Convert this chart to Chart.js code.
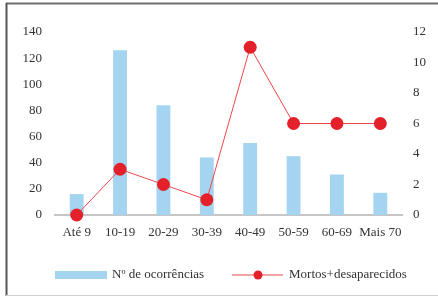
<!DOCTYPE html>
<html>
<head>
<meta charset="utf-8">
<script src="https://cdn.jsdelivr.net/npm/chart.js@4/dist/chart.umd.min.js"></script>
<style>
  html, body { margin: 0; padding: 0; background: #fff; }
  #wrap { position: relative; width: 438px; height: 297px; }
</style>
</head>
<body>
<div id="wrap"><canvas id="chart" width="438" height="297"></canvas></div>
<script>
const categories = ["Até 9", "10-19", "20-29", "30-39", "40-49", "50-59", "60-69", "Mais 70"];
const ocorrencias = [16, 126, 84, 44, 55, 45, 31, 17];
const mortos = [0, 3, 2, 1, 11, 6, 6, 6];

const BAR_COLOR = "#a5d4f0";
const LINE_COLOR = "#f0464c";
const POINT_COLOR = "#e4202a";
const TEXT_COLOR = "#333";
const FONT = { family: "'Liberation Serif', 'DejaVu Serif', serif", size: 13 };

// frame lines round the chart, like the exported figure
const framePlugin = {
  id: "frame",
  beforeDraw: (chart) => {
    const { ctx, width, height } = chart;
    ctx.save();
    ctx.lineWidth = 2;
    ctx.strokeStyle = "#6e6e6e";
    ctx.beginPath();
    ctx.moveTo(6, 3.5);
    ctx.lineTo(width, 3.5);
    ctx.stroke();
    ctx.strokeStyle = "#555";
    ctx.beginPath();
    ctx.moveTo(6.5, 3);
    ctx.lineTo(6.5, height - 1);
    ctx.stroke();
    ctx.lineWidth = 1;
    ctx.strokeStyle = "#cfcfcf";
    ctx.beginPath();
    ctx.moveTo(6, height - 1.5);
    ctx.lineTo(width, height - 1.5);
    ctx.stroke();
    ctx.restore();
  },
};

// legend: box for the bars, line with a dot for the line series
const legendPlugin = {
  id: "customLegend",
  afterDraw: (chart) => {
    const { ctx } = chart;
    const [bars, line] = chart.data.datasets;
    const y = 275;
    ctx.save();
    ctx.font = `${FONT.size}px ${FONT.family}`;
    ctx.textBaseline = "middle";

    ctx.fillStyle = bars.backgroundColor;
    ctx.fillRect(55, y - 4, 52, 8);
    ctx.fillStyle = TEXT_COLOR;
    ctx.fillText(bars.label, 112, y);

    ctx.strokeStyle = line.borderColor;
    ctx.lineWidth = 1;
    ctx.beginPath();
    ctx.moveTo(232, y);
    ctx.lineTo(283, y);
    ctx.stroke();
    ctx.fillStyle = line.pointBackgroundColor;
    ctx.beginPath();
    ctx.arc(258, y, 4.5, 0, Math.PI * 2);
    ctx.fill();
    ctx.fillStyle = TEXT_COLOR;
    ctx.fillText(line.label, 289, y);
    ctx.restore();
  },
};

new Chart(document.getElementById("chart"), {
  type: "bar",
  data: {
    labels: categories,
    datasets: [
      {
        type: "bar",
        label: "Nº de ocorrências",
        data: ocorrencias,
        backgroundColor: BAR_COLOR,
        yAxisID: "y",
        barPercentage: 0.32,
        categoryPercentage: 1,
        order: 2,
      },
      {
        type: "line",
        label: "Mortos+desaparecidos",
        data: mortos,
        borderColor: LINE_COLOR,
        borderWidth: 1,
        pointBackgroundColor: POINT_COLOR,
        pointBorderWidth: 0,
        pointRadius: 6.5,
        yAxisID: "y1",
        clip: false,
        order: 1,
      },
    ],
  },
  options: {
    responsive: false,
    animation: false,
    layout: { padding: { top: 32, left: 0, right: 0, bottom: 0 } },
    plugins: { legend: { display: false }, tooltip: { enabled: false } },
    scales: {
      x: {
        grid: { display: false, drawTicks: false },
        border: { color: "#c6c6c6", width: 2 },
        ticks: { color: TEXT_COLOR, font: FONT, padding: 10, maxRotation: 0, autoSkip: false },
        afterFit: (scale) => { scale.height = 82; },
      },
      y: {
        position: "left",
        min: 0,
        max: 140,
        grid: { display: false, drawTicks: false },
        border: { display: false },
        ticks: { stepSize: 20, color: TEXT_COLOR, font: FONT, padding: 13 },
        afterFit: (scale) => { scale.width = 55; },
      },
      y1: {
        position: "right",
        min: 0,
        max: 12,
        grid: { display: false, drawTicks: false },
        border: { display: false },
        ticks: { stepSize: 2, color: TEXT_COLOR, font: FONT, padding: 11 },
        afterFit: (scale) => { scale.width = 36; },
      },
    },
  },
  plugins: [framePlugin, legendPlugin],
});
</script>
</body>
</html>
